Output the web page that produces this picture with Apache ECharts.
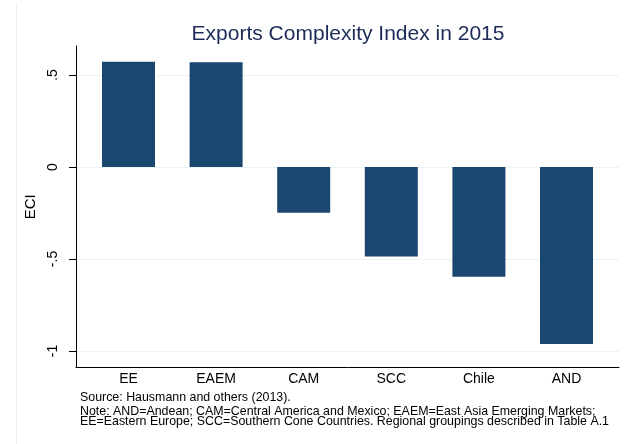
<!DOCTYPE html>
<html>
<head>
<meta charset="utf-8">
<script src="https://cdn.jsdelivr.net/npm/echarts@6/dist/echarts.min.js"></script>
<style>
  html, body { margin: 0; padding: 0; background: #fff; }
  #chart { width: 629px; height: 444px; }
</style>
</head>
<body>
<div id="chart"></div>
<script>
  // data
  var regions = ['EE', 'EAEM', 'CAM', 'SCC', 'Chile', 'AND'];
  var eci = [0.572, 0.569, -0.248, -0.487, -0.596, -0.962];
  var yTicks = [-1, -0.5, 0, 0.5];

  var font = '"Liberation Sans", Arial, sans-serif';
  var navy = '#1a476f';
  var gridColor = '#eaf2f3';
  var yMin = -1.0897, yMax = 0.6576;

  function tickText(v) {
    if (v === 0) return '0';
    var s = String(v);
    return s.replace('0.', '.');
  }

  var myChart = echarts.init(document.getElementById('chart'));
  var option = {
    animation: false,
    backgroundColor: '#fff',
    title: {
      text: 'Exports Complexity Index in 2015',
      left: 343,
      top: 19,
      textAlign: 'center',
      textStyle: { color: '#1c2b57', fontFamily: font, fontSize: 21, fontWeight: 'normal' }
    },
    grid: [
      // frame: axes and grid lines
      { left: 76, right: 10, top: 46, bottom: 76.5 },
      // bars
      { left: 84.7, right: 18.7, top: 46, bottom: 76.5 }
    ],
    xAxis: [
      {
        gridIndex: 0, type: 'value', min: 0, max: 1,
        axisLine: { show: true, onZero: false, lineStyle: { color: '#000', width: 1 } },
        axisTick: { show: false }, axisLabel: { show: false }, splitLine: { show: false }
      },
      {
        gridIndex: 1, type: 'category', data: regions,
        axisLine: { show: false }, axisTick: { show: false },
        axisLabel: { color: '#000', fontFamily: font, fontSize: 14, margin: 5, interval: 0 }
      }
    ],
    yAxis: [
      {
        gridIndex: 0, type: 'value', min: yMin, max: yMax,
        name: 'ECI', nameLocation: 'middle', nameGap: 32, nameRotate: 90,
        nameTextStyle: { color: '#000', fontFamily: font, fontSize: 15 },
        axisLine: { show: true, lineStyle: { color: '#000', width: 1 } },
        axisTick: { show: true, length: 7, customValues: yTicks, lineStyle: { color: '#000' } },
        axisLabel: {
          customValues: yTicks, rotate: 90, margin: 16,
          color: '#000', fontFamily: font, fontSize: 14,
          formatter: tickText
        },
        splitLine: { show: true, lineStyle: { color: gridColor, width: 1 } }
      },
      {
        gridIndex: 1, type: 'value', min: yMin, max: yMax, show: false,
        splitLine: { show: false }
      }
    ],
    series: [
      {
        type: 'bar',
        xAxisIndex: 1,
        yAxisIndex: 1,
        data: eci,
        barWidth: 53,
        itemStyle: { color: navy }
      }
    ],
    graphic: [
      {
        type: 'line', silent: true,
        shape: { x1: 16.5, y1: 3, x2: 16.5, y2: 444 },
        style: { stroke: gridColor, lineWidth: 1 }
      },
      {
        type: 'text', left: 80, top: 392,
        style: { text: 'Source: Hausmann and others (2013).', font: '12.4px ' + font, fill: '#000' }
      },
      {
        type: 'text', left: 80, top: 405.5,
        style: { text: 'Note: AND=Andean; CAM=Central America and Mexico; EAEM=East Asia Emerging Markets;', font: '12.4px ' + font, fill: '#000' }
      },
      {
        type: 'text', left: 80, top: 415.5,
        style: { text: 'EE=Eastern Europe; SCC=Southern Cone Countries. Regional groupings described in Table A.1', font: '12.4px ' + font, fill: '#000' }
      }
    ]
  };
  myChart.setOption(option);
  window.addEventListener('resize', function () { myChart.resize(); });
</script>
</body>
</html>
